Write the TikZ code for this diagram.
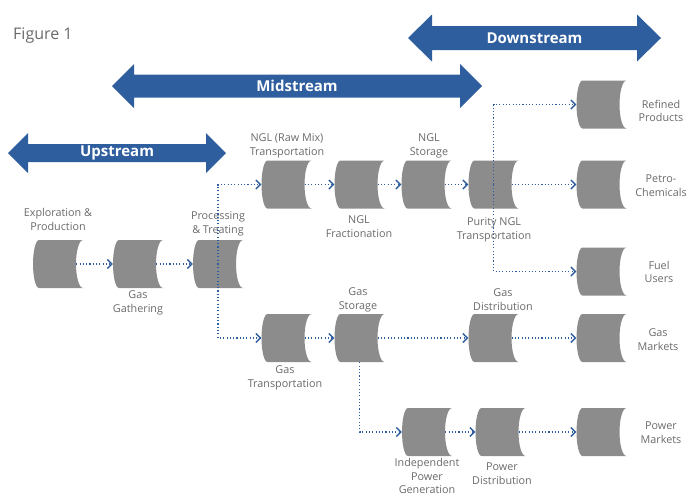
\documentclass[tikz,border=0pt]{standalone}
\usepackage{fontspec}
\setmainfont{Open Sans}
\usetikzlibrary{positioning}
\usetikzlibrary{arrows.meta}
\usetikzlibrary{calc}
\definecolor{streamblue}{HTML}{2E5E9E}
\definecolor{tankgray}{HTML}{8C8C8C}
\definecolor{labelgray}{HTML}{6A6A6A}
\tikzset{
  tank/.style={rectangle, inner sep=0pt, minimum width=50pt, minimum height=48pt,
    path picture={\fill[tankgray] ([xshift=6pt]path picture bounding box.north west)
      -- (path picture bounding box.north east)
      arc[start angle=90, end angle=270, x radius=7pt, y radius=24pt]
      -- ([xshift=6pt]path picture bounding box.south west)
      arc[start angle=270, end angle=90, x radius=6pt, y radius=24pt] -- cycle;}},
  lbl/.style={font=\fontsize{10.8}{13.8}\selectfont, text=labelgray, align=center, inner sep=0pt},
  streamtext/.style={font=\fontsize{15}{18}\selectfont\bfseries, text=white, inner sep=0pt},
  flow/.style={streamblue, line width=1.1pt, dash pattern=on 1.1pt off 2.2pt,
    -{Straight Barb[length=4.5pt,width=9pt,line width=1.4pt]}}
}

\begin{document}
\begin{tikzpicture}[x=1pt, y=1pt]
        \useasboundingbox (0,0) rectangle (692,-496);
        \node[font=\fontsize{16}{19}\selectfont, text=labelgray, anchor=west, inner sep=0pt] (fig) at (13,-36) {Figure 1};
        % stream arrows
        \foreach \xa/\xb/\yc/\hl/\hh/\sh/\nm/\txt in {8/226/153/20/20/9/up/Upstream,
            112/482/86/22/22/11.5/mid/Midstream, 408/661/38/24/23.5/12/down/Downstream} {
            \fill[streamblue] (\xa,-\yc) -- ++(\hl,\hh) -- ++(0,\sh-\hh) -- (\xb-\hl,-\yc+\sh)
            -- ++(0,\hh-\sh) -- (\xb,-\yc) -- ++(-\hl,-\hh) -- ++(0,\hh-\sh)
            -- (\xa+\hl,-\yc-\sh) -- ++(0,\sh-\hh) -- cycle;
            \node[streamtext] (\nm) at ({(\xa+\xb)/2},-\yc) {\txt};
        }
        % tanks
        \node[tank] (expl) at (58,-264) {};
        \node[tank] (gather) at (138,-264) {};
        \node[tank] (proc) at (218,-264) {};
        \node[tank] (nglraw) at (286.5,-184.5) {};
        \node[tank] (fract) at (359.5,-184.5) {};
        \node[tank] (nglstor) at (426.5,-184.5) {};
        \node[tank] (purity) at (493.5,-184.5) {};
        \node[tank] (refined) at (601.5,-104.5) {};
        \node[tank] (petro) at (601.5,-184.5) {};
        \node[tank] (fuel) at (601.5,-271.5) {};
        \node[tank] (gastrans) at (286.5,-338) {};
        \node[tank] (gasstor) at (359.5,-338) {};
        \node[tank] (gasdist) at (493.5,-338) {};
        \node[tank] (gasmkt) at (601.5,-338) {};
        \node[tank] (indep) at (427,-432) {};
        \node[tank] (powdist) at (500.5,-432) {};
        \node[tank] (powmkt) at (601.5,-432) {};
        % labels
        \node[lbl] (explL) at (58,-219.5) {Exploration \&\\Production};
        \node[lbl] (gatherL) at (138,-303) {Gas\\Gathering};
        \node[lbl] (procL) at (218,-223.5) {Processing\\\& Treating};
        \node[lbl] (nglrawL) at (287,-146) {NGL (Raw Mix)\\Transportation};
        \node[lbl] (fractL) at (359,-227) {NGL\\Fractionation};
        \node[lbl] (nglstorL) at (429,-146) {NGL\\Storage};
        \node[lbl] (purityL) at (494,-230) {Purity NGL\\Transportation};
        \node[lbl] (refinedL) at (661,-111) {Refined\\Products};
        \node[lbl] (petroL) at (661,-186) {Petro-\\Chemicals};
        \node[lbl] (fuelL) at (659,-272) {Fuel\\Users};
        \node[lbl] (gasmktL) at (658,-340) {Gas\\Markets};
        \node[lbl] (powmktL) at (661,-433) {Power\\Markets};
        \node[lbl] (gastransL) at (285,-378) {Gas\\Transportation};
        \node[lbl] (gasstorL) at (358,-299.5) {Gas\\Storage};
        \node[lbl] (gasdistL) at (503,-299.5) {Gas\\Distribution};
        \node[lbl] (indepL) at (427,-476) {Independent\\Power\\Generation};
        \node[lbl] (powdistL) at (502,-474) {Power\\Distribution};
        % flows
        \draw[flow] ([xshift=-7pt]expl.east) -- (gather.west);
        \draw[flow] ([xshift=-7pt]gather.east) -- (proc.west);
        \draw[flow] (proc.center) |- (nglraw.west);
        \draw[flow] (proc.center) |- (gastrans.west);
        \draw[flow] ([xshift=-7pt]nglraw.east) -- (fract.west);
        \draw[flow] ([xshift=-7pt]fract.east) -- (nglstor.west);
        \draw[flow] ([xshift=-7pt]nglstor.east) -- (purity.west);
        \draw[flow] (purity.center) |- (refined.west);
        \draw[flow] ([xshift=-7pt]purity.east) -- (petro.west);
        \draw[flow] (purity.center) |- (fuel.west);
        \draw[flow] ([xshift=-7pt]gastrans.east) -- (gasstor.west);
        \draw[flow] ([xshift=-7pt]gasstor.east) -- (gasdist.west);
        \draw[flow] ([xshift=-7pt]gasdist.east) -- (gasmkt.west);
        \draw[flow] (gasstor.south) |- (indep.west);
        \draw[flow] ([xshift=-7pt]indep.east) -- (powdist.west);
        \draw[flow] ([xshift=-7pt]powdist.east) -- (powmkt.west);
    \end{tikzpicture}
\end{document}
